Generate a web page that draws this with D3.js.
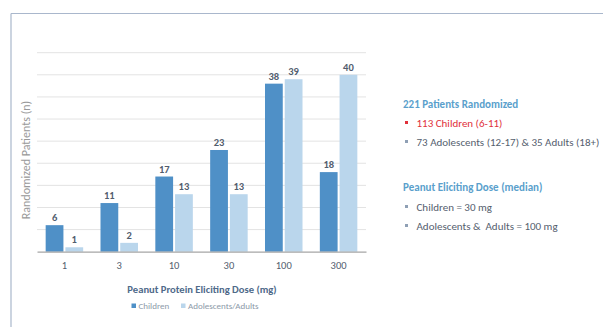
<!DOCTYPE html>
<html>
<head>
<meta charset="utf-8">
<script src="https://cdn.jsdelivr.net/npm/d3@7"></script>
<style>
  html, body { margin: 0; padding: 0; background: #ffffff; }
  svg { display: block; font-family: Calibri, Carlito, "Open Sans", sans-serif; }
</style>
</head>
<body>
<svg id="chart" width="603" height="327"></svg>
<script>
// Eliciting dose categories (mg) and randomized patient counts
const doses = ["1", "3", "10", "30", "100", "300"];
const children = [6, 11, 17, 23, 38, 18];
const adolescentsAdults = [1, 2, 13, 13, 39, 40];
const seriesNames = ["Children", "Adolescents/Adults"];
const yTicks = [0, 5, 10, 15, 20, 25, 30, 35, 40, 45];

const colors = { "Children": "#4f90c7", "Adolescents/Adults": "#bad6ec" };

const svg = d3.select("#chart");

// slide frame
svg.append("line").attr("x1", 11).attr("x2", 603).attr("y1", 13.5).attr("y2", 13.5)
  .attr("stroke", "#a9b7cc").attr("stroke-width", 1.2);
svg.append("line").attr("x1", 11).attr("x2", 11).attr("y1", 13.5).attr("y2", 327)
  .attr("stroke", "#a9b7cc").attr("stroke-width", 1.2);

const plot = { left: 37, right: 366, top: 52.7, bottom: 251.7 };

const x = d3.scaleBand().domain(doses).range([plot.left, plot.right])
  .paddingInner(0.316).paddingOuter(0.158);
const xs = d3.scaleBand().domain(seriesNames).range([0, x.bandwidth()]).paddingInner(0.1);
const y = d3.scaleLinear().domain([0, 45]).range([plot.bottom, plot.top]);

// horizontal gridlines
svg.append("g").selectAll("line").data(yTicks.slice(1)).join("line")
  .attr("x1", plot.left).attr("x2", plot.right)
  .attr("y1", d => y(d)).attr("y2", d => y(d))
  .attr("stroke", "#e3e3e3").attr("stroke-width", 1);

const rows = doses.map((d, i) => ({ dose: d, values: [
  { key: "Children", v: children[i] },
  { key: "Adolescents/Adults", v: adolescentsAdults[i] }
]}));

const groups = svg.append("g").selectAll("g").data(rows).join("g")
  .attr("transform", d => `translate(${x(d.dose)},0)`);

groups.selectAll("rect").data(d => d.values).join("rect")
  .attr("x", d => xs(d.key)).attr("width", xs.bandwidth())
  .attr("y", d => y(d.v)).attr("height", d => y(0) - y(d.v))
  .attr("fill", d => colors[d.key]);

groups.selectAll("text").data(d => d.values).join("text")
  .attr("x", d => xs(d.key) + xs.bandwidth() / 2)
  .attr("y", d => y(d.v) - 4)
  .attr("text-anchor", "middle")
  .attr("font-size", 10.5).attr("font-weight", 600)
  .attr("fill", "#525d6e")
  .text(d => d.v);

// x axis baseline and tick labels
const xAxis = svg.append("g").attr("transform", `translate(0,${plot.bottom})`)
  .call(d3.axisBottom(x).tickSize(0).tickPadding(10));
xAxis.select(".domain").attr("stroke", "#a6a6a6").attr("stroke-width", 1.2);
xAxis.selectAll("text").attr("font-size", 10.5).attr("fill", "#525d6e")
  .attr("font-family", "Calibri, Carlito, 'Open Sans', sans-serif");

// axis titles
svg.append("text").attr("x", 202).attr("y", 293).attr("text-anchor", "middle")
  .attr("font-size", 10.6).attr("font-weight", 600).attr("fill", "#4f6a8a")
  .text("Peanut Protein Eliciting Dose (mg)");

svg.append("text")
  .attr("transform", "translate(30,160) rotate(-90)")
  .attr("text-anchor", "middle").attr("font-size", 12).attr("fill", "#999999")
  .text("Randomized Patients (n)");

// legend
const legend = svg.append("g").attr("transform", "translate(131.5,309)");
const legendX = [0, 49.5];
seriesNames.forEach((name, i) => {
  legend.append("rect").attr("x", legendX[i]).attr("y", -5.5).attr("width", 4.5).attr("height", 4.5)
    .attr("fill", colors[name]);
  legend.append("text").attr("x", legendX[i] + 7).attr("y", 0)
    .attr("font-size", 9).attr("fill", "#8c99a8").text(name);
});

// study summary
const notes = svg.append("g").attr("font-size", 11);
notes.append("text").attr("x", 403).attr("y", 107.5).attr("fill", "#5a9fcc")
  .attr("font-weight", 600).text("221 Patients Randomized");
notes.append("text").attr("x", 403).attr("y", 190.5).attr("fill", "#5a9fcc")
  .attr("font-weight", 600).text("Peanut Eliciting Dose (median)");

const bullets = [
  { y: 126.5, text: "113 Children (6-11)", color: "#e0303a", bullet: "#e0303a", weight: 500 },
  { y: 145.5, text: "73 Adolescents (12-17) & 35 Adults (18+)", color: "#55606e", bullet: "#8fa0b5", weight: 400 },
  { y: 210.5, text: "Children = 30 mg", color: "#55606e", bullet: "#8fa0b5", weight: 400 },
  { y: 229.5, text: "Adolescents &  Adults = 100 mg", color: "#55606e", bullet: "#8fa0b5", weight: 400 }
];
bullets.forEach(b => {
  notes.append("rect").attr("x", 405).attr("y", b.y - 5.5).attr("width", 3).attr("height", 3)
    .attr("fill", b.bullet);
  notes.append("text").attr("x", 416.5).attr("y", b.y).attr("fill", b.color)
    .attr("font-weight", b.weight).attr("xml:space", "preserve").text(b.text);
});
</script>
</body>
</html>
